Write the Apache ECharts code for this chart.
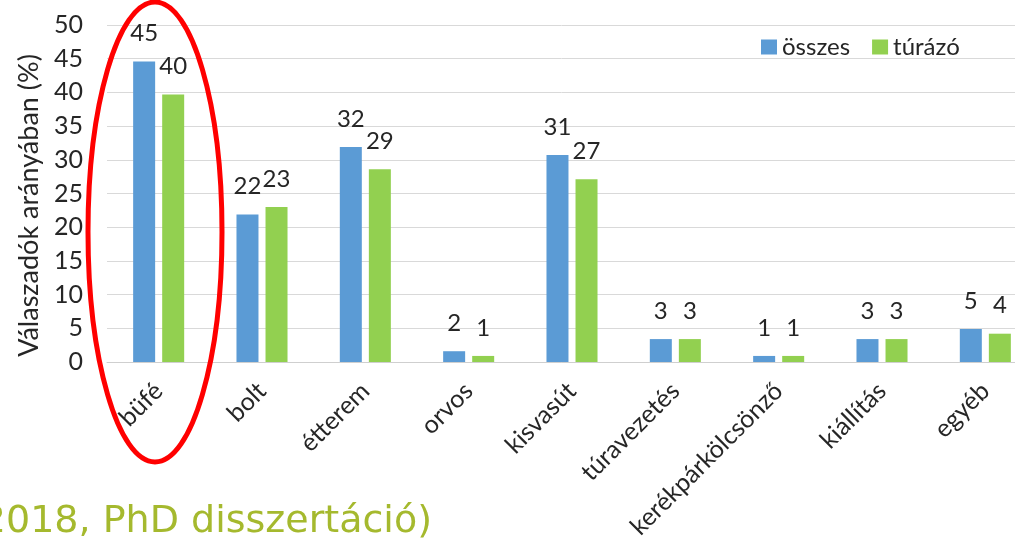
<!DOCTYPE html>
<html>
<head>
<meta charset="utf-8">
<script src="https://cdn.jsdelivr.net/npm/echarts@6/dist/echarts.min.js"></script>
<style>html,body{margin:0;padding:0;background:#fff}#c{width:1015px;height:545px}</style>
</head>
<body>
<div id="c"></div>
<script>
const categories = ['büfé','bolt','étterem','orvos','kisvasút','túravezetés','kerékpárkölcsönző','kiállítás','egyéb'];
const osszes = [44.6, 21.9, 31.9, 1.6, 30.7, 3.4, 0.9, 3.4, 4.9];
const turazo = [39.7, 23.0, 28.6, 0.9, 27.1, 3.4, 0.9, 3.4, 4.2];
const seriesNames = ['összes','túrázó'];
const yTicks = {min: 0, max: 50, interval: 5};
const yAxisTitle = 'Válaszadók arányában (%)';
const sourceNote = '(2018, PhD disszertáció)';

const FONT = 'Lato';
const TXT = '#262626';
const chart = echarts.init(document.getElementById('c'));
const lbl = {show: true, position: 'top', distance: 16, fontFamily: FONT, fontSize: 24, color: TXT,
  formatter: p => Math.round(p.value)};
chart.setOption({
  animation: false,
  textStyle: {fontFamily: FONT},
  grid: {left: 107, width: 930, top: 25, bottom: 183, containLabel: false, outerBoundsMode: 'none'},
  legend: {
    left: 756, top: 30, itemWidth: 16, itemHeight: 15, itemGap: 22,
    icon: 'rect',
    textStyle: {fontFamily: FONT, fontSize: 24, color: TXT},
    data: seriesNames
  },
  xAxis: {
    type: 'category', data: categories,
    axisLine: {lineStyle: {color: '#cfcfcf', width: 1}},
    axisTick: {show: false},
    axisLabel: {rotate: 45, interval: 0, margin: 25, fontFamily: FONT, fontSize: 25, color: TXT}
  },
  yAxis: {
    type: 'value', min: yTicks.min, max: yTicks.max, interval: yTicks.interval,
    name: yAxisTitle, nameLocation: 'middle', nameGap: 63,
    nameTextStyle: {fontFamily: FONT, fontSize: 27, color: TXT, padding: [0, 24, 0, 0]},
    axisLine: {show: false}, axisTick: {show: false},
    axisLabel: {margin: 24, fontFamily: FONT, fontSize: 25, color: TXT},
    splitLine: {lineStyle: {color: '#d9d9d9', width: 1}}
  },
  series: [
    {name: seriesNames[0], type: 'bar', data: osszes, barWidth: 22, barGap: '32%',
     itemStyle: {color: '#5B9BD5'}, label: lbl},
    {name: seriesNames[1], type: 'bar', data: turazo, barWidth: 22, barGap: '32%',
     itemStyle: {color: '#92D050'}, label: lbl}
  ],
  graphic: [
    {type: 'ellipse', shape: {cx: 155, cy: 232, rx: 67, ry: 230}, z: 100,
     style: {fill: 'none', stroke: '#FF0000', lineWidth: 5}},
    {type: 'text', left: -33, top: 503, z: 100,
     style: {text: sourceNote, fontFamily: 'DejaVu Sans', fontSize: 38, fill: '#A5B92E'}}
  ]
});
</script>
</body>
</html>
